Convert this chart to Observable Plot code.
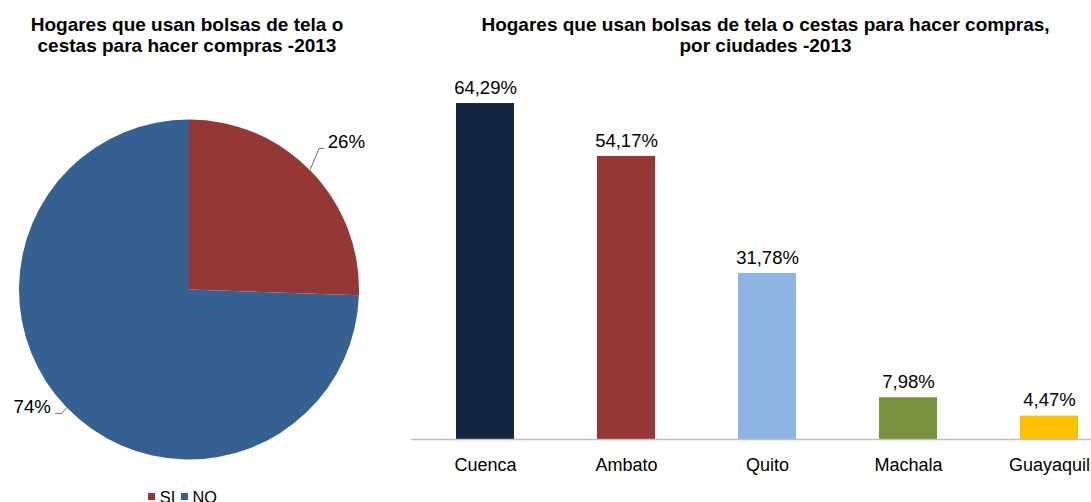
<!DOCTYPE html>
<html>
<head>
<meta charset="utf-8">
<script src="https://cdn.jsdelivr.net/npm/d3@7"></script>
<script src="https://cdn.jsdelivr.net/npm/@observablehq/plot@0.6"></script>
<style>
  html, body { margin: 0; padding: 0; background: #ffffff; }
  #root { position: relative; width: 1091px; height: 502px; overflow: hidden; font-family: "Liberation Sans", Arial, sans-serif; color: #000; }
  .title { position: absolute; text-align: center; font-weight: bold; font-size: 19px; line-height: 21px; white-space: nowrap; }
  #legend { position: absolute; left: 148px; top: 491.5px; display: flex; align-items: flex-start; font-size: 16.3px; line-height: 16.3px; }
  #legend .sw { width: 7px; height: 7px; margin-right: 4.8px; margin-top: 1px; }
  #legend .lb { margin-top: -2.1px; margin-right: 5.5px; }
  .chart { position: absolute; top: 0; }
</style>
</head>
<body>
<div id="root"></div>
<script>
// ---- Data ----
const pieTitle = ["Hogares que usan bolsas de tela o", "cestas para hacer compras -2013"];
const pieLabels = ["SI", "NO"];
const pieValues = [25.55, 74.45];
const pieColors = ["#953735", "#376092"];

const barTitle = ["Hogares que usan bolsas de tela o cestas para hacer compras,", "por ciudades -2013"];
const cities = ["Cuenca", "Ambato", "Quito", "Machala", "Guayaquil"];
const cityValues = [64.29, 54.17, 31.78, 7.98, 4.47];
const barColors = ["#132640", "#953735", "#8EB4E3", "#77933C", "#FFC000"];

const pieData = pieLabels.map((label, i) => ({label, value: pieValues[i]}));
const barData = cities.map((city, i) => ({city, value: cityValues[i]}));

const root = document.getElementById("root");
const font = "'Liberation Sans', Arial, sans-serif";
const fmtPct = v => v.toFixed(2).replace(".", ",") + "%";

// ---- Titles ----
function addTitle(lines, left, width, top) {
  const d = document.createElement("div");
  d.className = "title";
  d.style.left = left + "px";
  d.style.width = width + "px";
  d.style.top = top + "px";
  d.innerHTML = lines.join("<br>");
  root.appendChild(d);
}

// ---- Pie chart (custom render mark) ----
const cx = 189, cy = 289.5, R = 170;
const pieColor = d3.scaleOrdinal(pieLabels, pieColors);

function pieMark(index, scales, values, dimensions, context) {
  const g = d3.create("svg:g");
  const arcs = d3.pie().sort(null).value(d => d.value)(pieData);
  const arc = d3.arc().innerRadius(0).outerRadius(R);
  const slices = g.append("g").attr("transform", `translate(${cx},${cy})`);
  slices.selectAll("path").data(arcs).join("path")
    .attr("d", arc)
    .attr("fill", d => pieColor(d.data.label));
  for (const a of arcs) {
    const mid = (a.startAngle + a.endAngle) / 2;
    const ex = cx + R * Math.sin(mid), ey = cy - R * Math.cos(mid);
    let pts, tx, ty, anchor;
    if (Math.sin(mid) >= 0) {
      const elx = ex + 7.8, ely = ey - 23;
      pts = [[ex - 1, ey - 2], [elx, ely], [elx + 5.3, ely]];
      tx = elx + 8.6; ty = ely; anchor = "start";
    } else {
      const endx = ex - 11.8, endy = ey + 5.8;
      pts = [[ex, ey], [ex - 5, endy], [endx, endy]];
      tx = endx - 4; ty = endy; anchor = "end";
    }
    g.append("path")
      .attr("d", d3.line().curve(d3.curveLinear)(pts))
      .attr("fill", "none").attr("stroke", "#6f6f6f").attr("stroke-width", 1);
    g.append("text")
      .attr("x", tx).attr("y", ty)
      .attr("text-anchor", anchor)
      .attr("font-size", 18.7)
      .attr("font-family", font)
      .attr("fill", "#000")
      .text(Math.round(a.data.value) + "%");
  }
  return g.node();
}

const pie = Plot.plot({
  width: 380,
  height: 502,
  margin: 0,
  x: {axis: null},
  y: {axis: null},
  style: {fontFamily: font, background: "transparent", overflow: "visible"},
  marks: [pieMark]
});
pie.classList.add("chart");
pie.style.left = "0px";
root.appendChild(pie);

// ---- Legend ----
const legend = document.createElement("div");
legend.id = "legend";
pieLabels.forEach((lab, i) => {
  const sw = document.createElement("span");
  sw.className = "sw";
  sw.style.background = pieColors[i];
  const lb = document.createElement("span");
  lb.className = "lb";
  lb.textContent = lab;
  legend.appendChild(sw);
  legend.appendChild(lb);
});
root.appendChild(legend);

// ---- Bar chart ----
const bars = Plot.plot({
  width: 740,
  height: 502,
  marginLeft: 34.5,
  marginRight: 0.5,
  marginTop: 73.2,
  marginBottom: 63,
  style: {fontFamily: font, color: "#000", background: "transparent", overflow: "visible"},
  x: {domain: cities, paddingInner: 0.59, paddingOuter: 0.295, label: null},
  y: {domain: [0, 70], axis: null},
  color: {domain: cities, range: barColors},
  marks: [
    Plot.barY(barData, {x: "city", y: "value", fill: "city"}),
    Plot.ruleY([0], {stroke: "#c0c0c0", strokeWidth: 1.6, insetLeft: -3.5}),
    Plot.text(barData, {x: "city", y: "value", text: d => fmtPct(d.value), lineAnchor: "bottom", dy: -9.7, fontSize: 18.5, fill: "#000"}),
    Plot.axisX({tickSize: 0, tickPadding: 18.5, fontSize: 18, label: null})
  ]
});
bars.classList.add("chart");
bars.style.left = "380px";
root.appendChild(bars);

addTitle(pieTitle, 0, 374, 13.9);
addTitle(barTitle, 465, 601, 13.9);
</script>
</body>
</html>
